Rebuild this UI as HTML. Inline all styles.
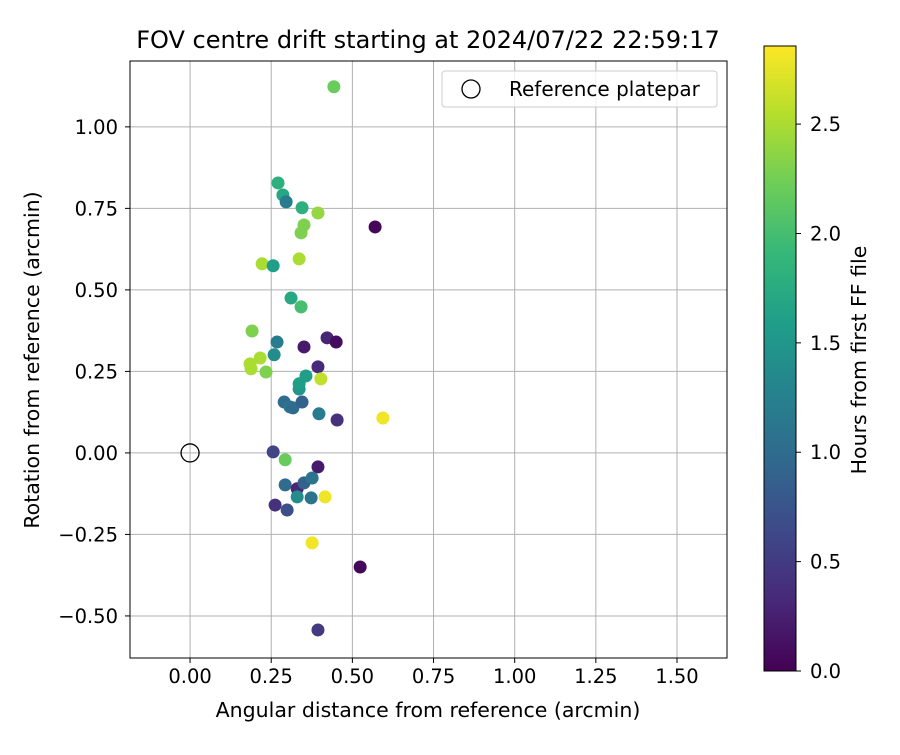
<!DOCTYPE html>
<html><head><meta charset="utf-8"><style>
body{margin:0;background:#fff;font-family:"Liberation Sans","DejaVu Sans",sans-serif}
svg text{font-family:"DejaVu Sans","Liberation Sans",sans-serif;fill:#000}
</style></head><body>
<svg id="c" width="900" height="750"></svg>
<script>
const xs=[0.443,0.271,0.286,0.296,0.345,0.394,0.570,0.351,0.342,0.336,0.222,0.256,0.311,0.342,0.191,0.422,0.450,0.268,0.351,0.216,0.185,0.259,0.188,0.234,0.394,0.357,0.403,0.336,0.336,0.290,0.308,0.317,0.345,0.397,0.453,0.594,0.256,0.293,0.394,0.293,0.330,0.351,0.376,0.330,0.373,0.416,0.262,0.299,0.376,0.524,0.394];
const ys=[1.123,0.828,0.791,0.770,0.752,0.736,0.693,0.699,0.675,0.595,0.580,0.574,0.475,0.448,0.374,0.353,0.340,0.340,0.325,0.291,0.273,0.301,0.258,0.248,0.264,0.236,0.227,0.196,0.212,0.156,0.141,0.138,0.156,0.120,0.101,0.107,0.003,-0.021,-0.043,-0.098,-0.110,-0.092,-0.077,-0.135,-0.138,-0.135,-0.160,-0.175,-0.276,-0.350,-0.543];
const hours=[2.2,1.8,1.7,1.2,1.8,2.4,0.05,2.3,2.3,2.5,2.5,1.6,1.7,2.0,2.3,0.3,0.1,1.2,0.2,2.5,2.5,1.4,2.5,2.3,0.35,1.6,2.6,1.5,1.6,1.0,1.1,1.0,0.9,1.2,0.4,2.8,0.6,2.2,0.2,1.0,0.3,0.9,1.1,1.4,1.1,2.8,0.4,0.7,2.8,0.05,0.5];
const xTicks=[0,0.25,0.5,0.75,1.0,1.25,1.5];
const yTicks=[-0.5,-0.25,0,0.25,0.5,0.75,1.0];
const cTicks=[0,0.5,1.0,1.5,2.0,2.5];
const L=130,R=727,T=61,B=658,xmin=-0.185,xmax=1.654,ymin=-0.629,ymax=1.202,cmax=2.857;
const X=v=>L+(v-xmin)/(xmax-xmin)*(R-L), Y=v=>B-(v-ymin)/(ymax-ymin)*(B-T);
const CT=46,CB=671,CY=v=>CB-v/cmax*(CB-CT);
const vir=[[68,1,84],[72,40,120],[62,73,137],[49,104,142],[38,130,142],[31,158,137],[53,183,121],[109,205,89],[180,222,44],[253,231,37]];
function col(h){let t=Math.max(0,Math.min(1,h/cmax))*(vir.length-1),i=Math.min(Math.floor(t),vir.length-2),f=t-i;return 'rgb('+vir[i].map((a,k)=>Math.round(a+(vir[i+1][k]-a)*f)).join(',')+')';}
const s=document.getElementById('c'),NS='http://www.w3.org/2000/svg';
function E(tag,at,txt){const e=document.createElementNS(NS,tag);for(const k in at)e.setAttribute(k,at[k]);if(txt!==undefined)e.textContent=txt;s.appendChild(e);return e;}
xTicks.forEach(v=>{const x=X(v);
const g=E('line',{x1:x,x2:x,y1:T,y2:B,stroke:'#b0b0b0','stroke-width':1});


E('line',{x1:x,x2:x,y1:B,y2:B+5,stroke:'#000'});
const t=E('text',{x:x,y:B+25,'text-anchor':'middle','font-size':19.5},v.toFixed(2));

});
yTicks.forEach(v=>{const y=Y(v);
const g=E('line',{x1:L,x2:R,y1:y,y2:y,stroke:'#b0b0b0','stroke-width':1});


E('line',{x1:L-5,x2:L,y1:y,y2:y,stroke:'#000'});
const t=E('text',{x:L-12,y:y+7,'text-anchor':'end','font-size':19.5},(v<0?'\u2212'+(-v).toFixed(2):v.toFixed(2)));

});
xs.forEach((v,i)=>{const p=E('circle',{cx:X(v),cy:Y(ys[i]),r:6.5,fill:col(hours[i])});

});
const rp=E('circle',{cx:X(0),cy:Y(0),r:9,fill:'none',stroke:'#000','stroke-width':1.3});


const fr=E('rect',{x:L,y:T,width:R-L,height:B-T,fill:'none',stroke:'#000','stroke-width':1});


const lg=E('rect',{x:442,y:71,width:275,height:36,rx:3,fill:'#fff','fill-opacity':0.8,stroke:'#ccc'});


E('circle',{cx:471,cy:89,r:9,fill:'none',stroke:'#000','stroke-width':1.3});
const lt=E('text',{x:509,y:96,'font-size':20},'Reference platepar');


const ti=E('text',{x:428,y:48,'text-anchor':'middle','font-size':24},'FOV centre drift starting at 2024/07/22 22:59:17');


const xt=E('text',{x:428,y:717,'text-anchor':'middle','font-size':20.5},'Angular distance from reference (arcmin)');


const yt=E('text',{x:39,y:360,'text-anchor':'middle','font-size':20.5,transform:'rotate(-90 39 360)'},'Rotation from reference (arcmin)');


const defs=E('defs',{});const gr=document.createElementNS(NS,'linearGradient');gr.setAttribute('id','vg');gr.setAttribute('x1','0');gr.setAttribute('y1','1');gr.setAttribute('x2','0');gr.setAttribute('y2','0');
vir.forEach((c,i)=>{const st=document.createElementNS(NS,'stop');st.setAttribute('offset',i/(vir.length-1));st.setAttribute('stop-color','rgb('+c.join(',')+')');gr.appendChild(st);});defs.appendChild(gr);
const cb=E('rect',{x:764,y:CT,width:32,height:CB-CT,fill:'url(#vg)',stroke:'#000','stroke-width':1});


cTicks.forEach(v=>{const y=CY(v);E('line',{x1:796,x2:801,y1:y,y2:y,stroke:'#000'});
const t=E('text',{x:810,y:y+7,'font-size':19.5},v.toFixed(1));

});
const ct=E('text',{x:866,y:360,'text-anchor':'middle','font-size':20.5,transform:'rotate(-90 866 360)'},'Hours from first FF file');


</script>
</body></html>
